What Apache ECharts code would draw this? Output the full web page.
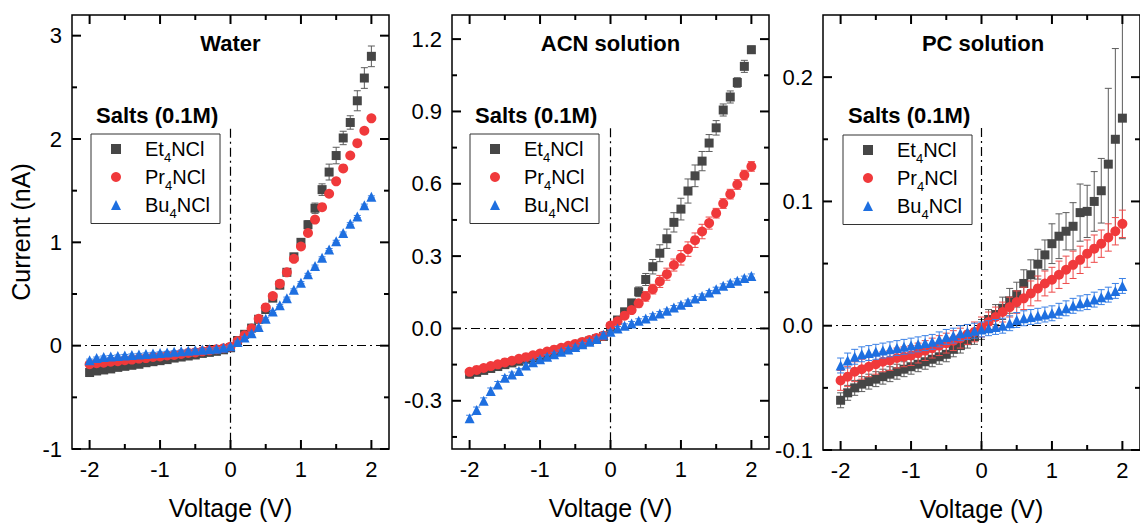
<!DOCTYPE html>
<html><head><meta charset="utf-8">
<script src="https://cdn.jsdelivr.net/npm/echarts@6/dist/echarts.min.js"></script>
<style>html,body{margin:0;padding:0;background:#fff}#c{width:1140px;height:527px}</style>
</head><body><div id="c"></div>
<script>
// ---------- DATA ----------
const voltage = [-2.0,-1.9,-1.8,-1.7,-1.6,-1.5,-1.4,-1.3,-1.2,-1.1,-1.0,-0.9,-0.8,-0.7,-0.6,-0.5,-0.4,-0.3,-0.2,-0.1,0.0,0.1,0.2,0.3,0.4,0.5,0.6,0.7,0.8,0.9,1.0,1.1,1.2,1.3,1.4,1.5,1.6,1.7,1.8,1.9,2.0];
const seriesNames = ['Et4NCl','Pr4NCl','Bu4NCl'];
const panelTitles = ['Water','ACN solution','PC solution'];
const legendTitle = 'Salts (0.1M)';
const xAxisName = 'Voltage (V)';
const yAxisName = 'Current (nA)';
const xMajorTicks = [-2,-1,0,1,2];
const xMinorTicks = [-1.5,-0.5,0.5,1.5];

// Water
const waterEt = [-0.26,-0.245,-0.235,-0.225,-0.21,-0.2,-0.19,-0.18,-0.165,-0.155,-0.145,-0.135,-0.12,-0.11,-0.1,-0.09,-0.075,-0.065,-0.055,-0.04,-0.02,0.05,0.11,0.17,0.255,0.35,0.46,0.585,0.71,0.86,1.0,1.17,1.33,1.51,1.68,1.84,2.01,2.16,2.37,2.59,2.8];
const waterEtErr = [0.01,0.01,0.01,0.01,0.01,0.01,0.01,0.01,0.01,0.01,0.01,0.01,0.01,0.01,0.01,0.01,0.01,0.01,0.01,0.01,0.01,0.01,0.01,0.015,0.015,0.02,0.02,0.025,0.03,0.03,0.035,0.04,0.05,0.056,0.077,0.08,0.065,0.065,0.097,0.1,0.1];
const waterPr = [-0.18,-0.17,-0.165,-0.155,-0.15,-0.14,-0.135,-0.125,-0.12,-0.11,-0.105,-0.095,-0.09,-0.08,-0.07,-0.065,-0.055,-0.045,-0.035,-0.025,-0.01,0.045,0.1,0.165,0.26,0.37,0.48,0.6,0.71,0.84,0.96,1.09,1.22,1.34,1.47,1.59,1.715,1.84,1.96,2.08,2.2];
const waterPrErr = [0.012,0.012,0.012,0.012,0.012,0.012,0.012,0.012,0.012,0.012,0.012,0.012,0.012,0.012,0.012,0.012,0.012,0.012,0.012,0.012,0.01,0.01,0.01,0.012,0.012,0.015,0.015,0.015,0.015,0.015,0.02,0.02,0.02,0.02,0.02,0.02,0.02,0.02,0.025,0.025,0.025];
const waterBu = [-0.14,-0.12,-0.11,-0.105,-0.1,-0.095,-0.09,-0.085,-0.08,-0.075,-0.07,-0.065,-0.06,-0.055,-0.05,-0.045,-0.04,-0.035,-0.03,-0.02,-0.005,0.035,0.08,0.12,0.18,0.26,0.33,0.39,0.46,0.54,0.61,0.69,0.77,0.85,0.93,1.01,1.09,1.18,1.25,1.36,1.44];
const waterBuErr = [0.01,0.01,0.01,0.01,0.01,0.01,0.01,0.01,0.01,0.01,0.01,0.01,0.01,0.01,0.01,0.01,0.01,0.01,0.01,0.01,0.01,0.01,0.01,0.01,0.01,0.01,0.01,0.01,0.01,0.01,0.01,0.01,0.01,0.01,0.01,0.01,0.01,0.01,0.01,0.01,0.01];

// ACN
const acnEt = [-0.19,-0.182,-0.174,-0.166,-0.158,-0.15,-0.143,-0.136,-0.129,-0.122,-0.115,-0.106,-0.097,-0.088,-0.079,-0.07,-0.061,-0.052,-0.043,-0.033,0.005,0.035,0.069,0.106,0.152,0.203,0.256,0.312,0.372,0.44,0.495,0.57,0.633,0.694,0.769,0.832,0.906,0.96,1.02,1.087,1.156];
const acnEtErr = [0.006,0.006,0.006,0.006,0.006,0.006,0.006,0.006,0.006,0.006,0.006,0.006,0.006,0.006,0.006,0.006,0.006,0.006,0.006,0.006,0.005,0.005,0.008,0.01,0.02,0.025,0.03,0.035,0.04,0.04,0.045,0.05,0.045,0.04,0.035,0.03,0.025,0.025,0.02,0.025,0.015];
const acnPr = [-0.18,-0.172,-0.164,-0.156,-0.149,-0.141,-0.134,-0.126,-0.119,-0.111,-0.104,-0.096,-0.088,-0.08,-0.072,-0.064,-0.056,-0.048,-0.04,-0.03,0.012,0.03,0.053,0.076,0.104,0.133,0.163,0.195,0.225,0.263,0.293,0.329,0.366,0.402,0.437,0.478,0.518,0.557,0.597,0.636,0.672];
const acnPrErr = [0.006,0.006,0.006,0.006,0.006,0.006,0.006,0.006,0.006,0.006,0.006,0.006,0.006,0.006,0.006,0.006,0.006,0.006,0.006,0.006,0.005,0.005,0.008,0.01,0.015,0.02,0.02,0.025,0.025,0.025,0.03,0.03,0.03,0.03,0.025,0.02,0.02,0.02,0.02,0.02,0.02];
const acnBu = [-0.372,-0.338,-0.30,-0.259,-0.232,-0.205,-0.191,-0.177,-0.154,-0.14,-0.128,-0.117,-0.107,-0.097,-0.087,-0.077,-0.066,-0.055,-0.044,-0.026,-0.014,0.0,0.011,0.021,0.032,0.041,0.053,0.062,0.073,0.087,0.098,0.11,0.124,0.135,0.149,0.163,0.177,0.188,0.198,0.209,0.218];
const acnBuErr = [0.012,0.012,0.012,0.012,0.012,0.01,0.01,0.01,0.01,0.008,0.008,0.008,0.008,0.008,0.008,0.008,0.008,0.008,0.008,0.008,0.008,0.008,0.008,0.008,0.008,0.008,0.008,0.008,0.008,0.008,0.008,0.008,0.008,0.008,0.008,0.008,0.008,0.008,0.008,0.008,0.008];

// PC
const pcEt = [-0.060,-0.054,-0.050,-0.047,-0.045,-0.043,-0.041,-0.039,-0.037,-0.035,-0.033,-0.031,-0.029,-0.027,-0.025,-0.023,-0.019,-0.016,-0.012,-0.009,-0.003,0.005,0.009,0.014,0.02,0.025,0.034,0.041,0.0495,0.057,0.066,0.072,0.076,0.080,0.091,0.092,0.100,0.1086,0.130,0.150,0.167];
const pcEtErr = [0.006,0.006,0.006,0.006,0.006,0.006,0.006,0.006,0.006,0.006,0.006,0.006,0.006,0.006,0.006,0.006,0.006,0.006,0.006,0.006,0.008,0.008,0.008,0.009,0.01,0.01,0.011,0.012,0.012,0.012,0.016,0.018,0.015,0.019,0.023,0.021,0.024,0.026,0.061,0.073,0.097];
const pcPr = [-0.044,-0.041,-0.037,-0.035,-0.033,-0.031,-0.029,-0.028,-0.026,-0.025,-0.024,-0.022,-0.020,-0.018,-0.016,-0.014,-0.012,-0.010,-0.007,-0.005,-0.001,0.003,0.007,0.011,0.015,0.019,0.022,0.026,0.030,0.034,0.037,0.041,0.045,0.049,0.053,0.058,0.062,0.066,0.071,0.076,0.082];
const pcPrErr = [0.008,0.008,0.008,0.008,0.008,0.008,0.008,0.008,0.008,0.008,0.008,0.008,0.008,0.008,0.008,0.008,0.008,0.008,0.008,0.008,0.008,0.008,0.008,0.008,0.008,0.009,0.009,0.01,0.01,0.01,0.01,0.011,0.011,0.011,0.011,0.011,0.011,0.011,0.011,0.011,0.011];
const pcBu = [-0.032,-0.028,-0.025,-0.023,-0.022,-0.021,-0.02,-0.019,-0.018,-0.017,-0.016,-0.015,-0.014,-0.013,-0.011,-0.009,-0.008,-0.006,-0.005,-0.004,-0.003,-0.002,-0.001,0.0,0.002,0.0046,0.006,0.007,0.008,0.009,0.01,0.012,0.014,0.016,0.018,0.019,0.021,0.023,0.025,0.028,0.032];
const pcBuErr = [0.006,0.006,0.006,0.006,0.006,0.006,0.006,0.006,0.006,0.006,0.006,0.006,0.006,0.006,0.006,0.006,0.006,0.006,0.006,0.006,0.006,0.006,0.006,0.006,0.006,0.006,0.006,0.006,0.006,0.006,0.006,0.006,0.006,0.006,0.006,0.006,0.006,0.006,0.006,0.006,0.006];

// axis ranges and ticks (data units)
const yRanges = [[-1, 3.2], [-0.5, 1.3], [-0.1, 0.25]];
const yMajorTicks = [[-1,0,1,2,3], [-0.3,0,0.3,0.6,0.9,1.2], [-0.1,0,0.1,0.2]];
const yMinorTicks = [[-0.5,0.5,1.5,2.5], [-0.45,-0.15,0.15,0.45,0.75,1.05], [-0.05,0.05,0.15]];
const yLabelDecimals = [0, 1, 1];
const vGuideTop = [2.1, 0.83, 0.159];
const xRange = [-2.25, 2.25];

// ---------- STYLE ----------
const FONT = '"Liberation Sans", Arial, Helvetica, sans-serif';
const colors = ['#464646', '#F0393B', '#1E6FE0'];
const errColors = ['#5c5c5c', '#EE4A4A', '#3A80E6'];
const symbols = ['rect', 'circle', 'triangle'];
const symbolSizes = [9, 10, 10];
const MAJOR_LEN = 9, MINOR_LEN = 5;   // tick lengths in px
const grids = [
  {left: 72, top: 15, width: 317, height: 434},
  {left: 452, top: 15, width: 317, height: 434},
  {left: 823, top: 15, width: 320, height: 435}
];
const legendPos = [{left: 91, top: 134}, {left: 470, top: 134}, {left: 843, top: 135}];

const panelData = [
  [[waterEt, waterEtErr], [waterPr, waterPrErr], [waterBu, waterBuErr]],
  [[acnEt, acnEtErr], [acnPr, acnPrErr], [acnBu, acnBuErr]],
  [[pcEt, pcEtErr], [pcPr, pcPrErr], [pcBu, pcBuErr]]
];

const xAxes = [], yAxes = [], series = [], legends = [], graphics = [];

function errRender(color, yMin, yMax) {
  return function (params, api) {
    const x = api.value(0), y = api.value(1), e = api.value(2);
    const hi = Math.min(y + e, yMax), lo = Math.max(y - e, yMin);
    const p1 = api.coord([x, hi]), p2 = api.coord([x, lo]);
    const st = {stroke: color, lineWidth: 1};
    const ch = [{type: 'line', shape: {x1: p1[0], y1: p1[1], x2: p2[0], y2: p2[1]}, style: st}];
    if (y + e <= yMax) ch.push({type: 'line', shape: {x1: p1[0] - 3.5, y1: p1[1], x2: p1[0] + 3.5, y2: p1[1]}, style: st});
    if (y - e >= yMin) ch.push({type: 'line', shape: {x1: p2[0] - 3.5, y1: p2[1], x2: p2[0] + 3.5, y2: p2[1]}, style: st});
    return {type: 'group', children: ch};
  };
}

for (let p = 0; p < 3; p++) {
  const dec = yLabelDecimals[p];
  const [yMin, yMax] = yRanges[p];
  const [xMin, xMax] = xRange;
  const g = grids[p];
  xAxes.push({
    gridIndex: p, type: 'value', min: xMin, max: xMax, position: 'bottom',
    axisLine: {show: false, onZero: false}, splitLine: {show: false}, axisTick: {show: false},
    name: xAxisName, nameLocation: 'middle', nameGap: 46,
    nameTextStyle: {fontFamily: FONT, fontSize: 25, color: '#000'},
    axisLabel: {show: true, customValues: xMajorTicks, margin: 9, fontFamily: FONT, fontSize: 22, color: '#000', formatter: v => String(v)}
  });
  const yMain = {
    gridIndex: p, type: 'value', min: yMin, max: yMax, position: 'left',
    axisLine: {show: false, onZero: false}, splitLine: {show: false}, axisTick: {show: false},
    axisLabel: {show: true, customValues: yMajorTicks[p], margin: 10, fontFamily: FONT, fontSize: 22, color: '#000',
      formatter: v => (Math.abs(v) < 1e-9 ? 0 : v).toFixed(dec)}
  };
  if (p === 0) Object.assign(yMain, {name: yAxisName, nameLocation: 'middle', nameGap: 39,
    nameTextStyle: {fontFamily: FONT, fontSize: 25, color: '#000'}});
  yAxes.push(yMain);

  const axIdx = {xAxisIndex: p, yAxisIndex: p};
  // guide lines
  series.push(Object.assign({
    type: 'scatter', name: '_guide' + p, data: [], silent: true,
    markLine: {silent: true, symbol: 'none', animation: false, label: {show: false},
      lineStyle: {color: '#000', width: 1.2, type: [9, 4, 2, 4]},
      data: [
        [{coord: [0, vGuideTop[p]]}, {coord: [0, yMin]}],
        [{coord: [xMin, 0]}, {coord: [xMax, 0]}]
      ]}
  }, axIdx));
  for (let s = 0; s < 3; s++) {
    const vals = panelData[p][s][0], errs = panelData[p][s][1];
    series.push(Object.assign({
      type: 'custom', name: seriesNames[s] + '_err' + p, silent: true, z: 2 + s * 2,
      renderItem: errRender(errColors[s], yMin, yMax),
      encode: {x: 0, y: 1},
      data: voltage.map((v, i) => [v, vals[i], errs[i]])
    }, axIdx));
    series.push(Object.assign({
      type: 'scatter', name: seriesNames[s], symbol: symbols[s], symbolSize: symbolSizes[s], z: 3 + s * 2,
      itemStyle: {color: colors[s], opacity: 1},
      data: voltage.map((v, i) => [v, vals[i]])
    }, axIdx));
  }
  legends.push({
    orient: 'vertical', left: legendPos[p].left, top: legendPos[p].top,
    data: seriesNames, selectedMode: false,
    itemWidth: 10, itemHeight: 10, itemGap: 3.5,
    padding: [5, 10, 4, 20],
    borderColor: '#333', borderWidth: 1, borderRadius: 0,
    formatter: name => '{g|}{n|' + name.replace('4', '}{s|4}{n|') + '}',
    textStyle: {color: '#000', fontFamily: FONT, fontSize: 20,
      rich: {g: {width: 19}, n: {fontFamily: FONT, fontSize: 20, color: '#000'},
        s: {fontFamily: FONT, fontSize: 13, color: '#000', padding: [16, 0, 0, 0]}}}
  });
  const xc = g.left + g.width * (0 - xMin) / (xMax - xMin);
  graphics.push({type: 'text', x: xc, y: 43, style: {text: panelTitles[p], font: 'bold 22px ' + FONT,
    fill: '#000', textAlign: 'center', textVerticalAlign: 'middle'}});
  graphics.push({type: 'text', x: legendPos[p].left + 5, y: 115, style: {text: legendTitle, font: 'bold 22px ' + FONT,
    fill: '#000', textAlign: 'left', textVerticalAlign: 'middle'}});
}

// pixel position of a value pair in panel p: the chart's own scales, with a linear fallback
let chart;
function toPx(p, x, y) {
  let r = null;
  try { r = chart.convertToPixel({xAxisIndex: p, yAxisIndex: p}, [x, y]); } catch (e) { r = null; }
  if (!r || !isFinite(r[0]) || !isFinite(r[1])) {
    const g = grids[p], [yMin, yMax] = yRanges[p];
    r = [g.left + g.width * (x - xRange[0]) / (xRange[1] - xRange[0]),
         g.top + g.height * (yMax - y) / (yMax - yMin)];
  }
  return r;
}

chart = echarts.init(document.getElementById('c'), null, {renderer: 'svg'});
chart.setOption({
  animation: false,
  backgroundColor: '#fff',
  grid: grids.map(g => Object.assign({show: true, borderColor: '#000', borderWidth: 1.5, backgroundColor: 'transparent', containLabel: false}, g)),
  xAxis: xAxes, yAxis: yAxes, series: series, legend: legends, graphic: graphics
});

// inward tick marks on all four sides of each frame
const tickGraphics = [];
for (let p = 0; p < 3; p++) {
  const [yMin, yMax] = yRanges[p];
  const [xMin, xMax] = xRange;
  const c0 = toPx(p, xMin, yMin), c1 = toPx(p, xMax, yMax);
  const L = c0[0], B = c0[1], R = c1[0], T = c1[1];
  const line = (x1, y1, x2, y2) => tickGraphics.push({type: 'line', silent: true, z: 100,
    shape: {x1: x1, y1: y1, x2: x2, y2: y2}, style: {stroke: '#000', lineWidth: 2}});
  const addX = (v, len) => {
    const px = toPx(p, v, yMin)[0];
    line(px, B, px, B - len); line(px, T, px, T + len);
  };
  const addY = (v, len) => {
    const py = toPx(p, xMin, v)[1];
    line(L, py, L + len, py); line(R, py, R - len, py);
  };
  xMajorTicks.forEach(v => addX(v, MAJOR_LEN));
  xMinorTicks.forEach(v => addX(v, MINOR_LEN));
  yMajorTicks[p].forEach(v => addY(v, MAJOR_LEN));
  yMinorTicks[p].forEach(v => addY(v, MINOR_LEN));
}
chart.setOption({graphic: graphics.concat(tickGraphics)});
</script></body></html>
